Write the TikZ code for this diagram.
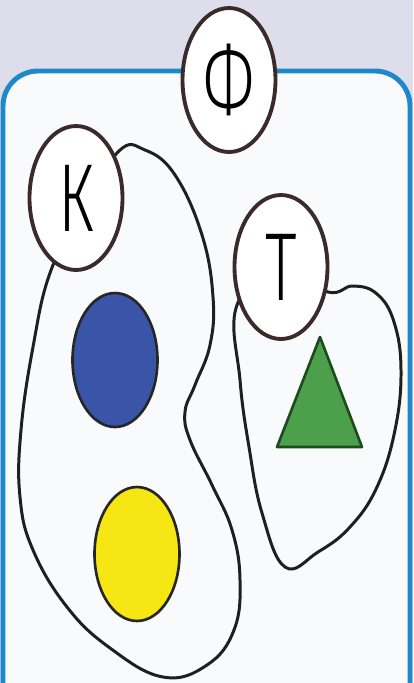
\documentclass[tikz,border=0pt]{standalone}
\usepackage{fontspec}
\setmainfont{Liberation Sans}
\IfFontExistsTF{Fira Sans Light}{\newfontfamily\ringfont{Fira Sans Light}}{%
  \IfFontExistsTF{Open Sans Light}{\newfontfamily\ringfont{Open Sans Light}}{%
    \IfFontExistsTF{DejaVu Sans ExtraLight}{\newfontfamily\ringfont{DejaVu Sans ExtraLight}}{%
      \newfontfamily\ringfont{Liberation Sans}}}}
\usepackage{xcolor}
\usetikzlibrary{shapes.geometric}
\definecolor{paperlilac}{RGB}{221, 221, 236}
\definecolor{paperwhite}{RGB}{248, 250, 251}
\definecolor{framecyan}{RGB}{30, 136, 200}
\definecolor{ringbrown}{RGB}{58, 42, 42}
\definecolor{dotblue}{RGB}{58, 84, 168}
\definecolor{dotyellow}{RGB}{246, 230, 20}
\definecolor{trigreen}{RGB}{76, 160, 76}
\definecolor{trioutline}{RGB}{30, 75, 30}

\begin{document}
\begin{tikzpicture}[x=0.02cm, y=-0.02cm,
    letterring/.style={ellipse, draw=ringbrown, line width=2.2pt, fill=white,
        minimum width=1.86cm, minimum height=2.88cm, inner sep=0pt,
        font=\ringfont\fontsize{55}{55}\selectfont},
    colourdot/.style={ellipse, draw=black!85, line width=1.5pt,
        minimum width=1.7cm, minimum height=2.68cm, inner sep=0pt},
    setline/.style={draw=black!88, line width=1.7pt}]
    \useasboundingbox (0,0) rectangle (413,683);
    \clip (0,0) rectangle (413,683);

    % Paper and frame
    \fill[paperlilac] (0,0) rectangle (413,683);
    \draw[framecyan, line width=2.8pt, fill=paperwhite, rounded corners=0.7cm]
        (3,71) rectangle (410,730);

    % Set outlines
    \draw[setline] plot[smooth cycle, tension=0.7] coordinates {
        (80,215) (50,273) (33,347) (21,430) (20,497) (33,550) (67,607)
        (110,648) (163,677) (207,665) (234,630) (240,580) (232,530)
        (212,485) (190,440) (185,412) (195,385) (210,345) (213,297)
        (202,235) (175,175) (145,150) (118,152)};
    \draw[setline] plot[smooth cycle, tension=0.7] coordinates {
        (280,270) (237,305) (240,380) (249,447) (262,513) (285,567)
        (318,552) (350,527) (377,487) (395,430) (401,370) (394,322)
        (377,294) (353,286) (328,292)};

    % Letter rings
    \node[letterring] (phi) at (229,80) {\scalebox{0.66}[1]{Ф}};
    \node[letterring] (ka) at (76,198) {\scalebox{0.66}[1]{К}};
    \node[letterring] (te) at (281,267) {\scalebox{0.66}[1]{Т}};

    % Elements
    \node[colourdot, fill=dotblue] (bluedot) at (115,360) {};
    \node[colourdot, fill=dotyellow] (yellowdot) at (137,554) {};
    \draw[draw=trioutline, fill=trigreen, line width=1.5pt, line join=round]
        (320,337) -- (362,447) -- (277,447) -- cycle;
\end{tikzpicture}
\end{document}
